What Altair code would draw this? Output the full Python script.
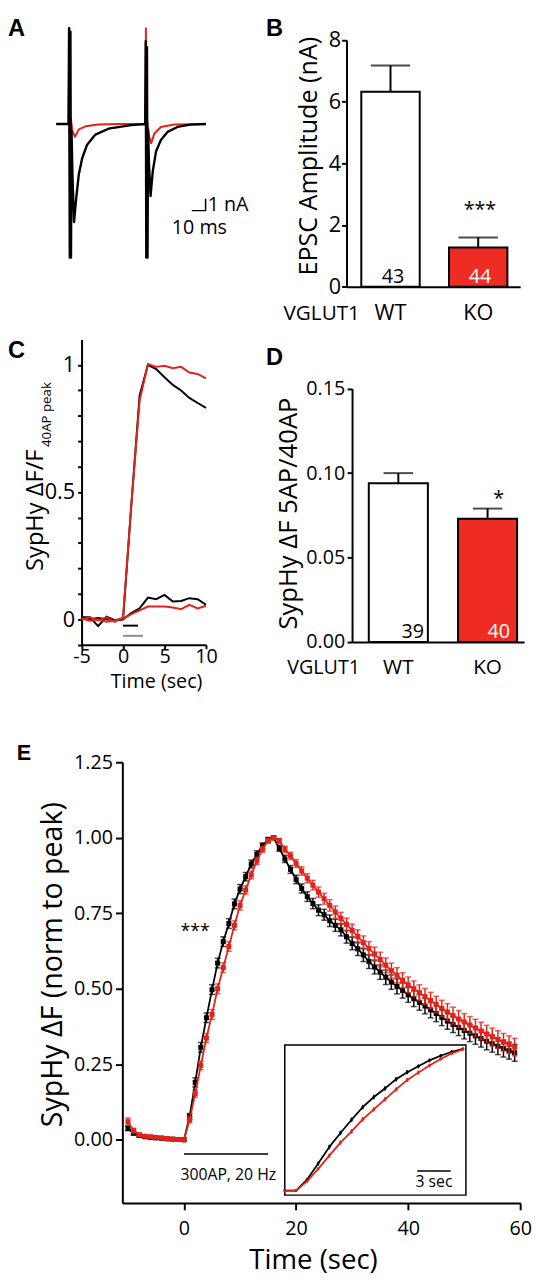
import altair as alt
import pandas as pd

FONT = "Open Sans"
BOLD = "Liberation Sans"
RED_LINE = "#E2231A"
RED_FILL = "#EE2C24"
GREY = "#8C8C8C"
W, H = 524, 1264

# ---------------- Panel A : EPSC traces (time ms, current nA) ----------------
a_black_t = [-9.3, -0.4, 0.0, 0.5, 1.0, 1.4, 1.8, 2.5, 3.6, 5.2, 7.1, 9.5, 13.1, 19.1, 28.6, 45.0,
             55.2, 55.6, 56.0, 56.5, 56.9, 57.3, 58.0, 59.1, 60.7, 63.1, 66.6, 71.4, 78.6, 87.9, 99.3]
a_black_i = [0.0, 0.0, 8.1, -11.3, 7.8, -11.3, -0.6, -4.5, -8.3, -6.25, -4.25, -2.9, -1.75, -0.9, -0.4, -0.1,
             0.0, 7.0, -11.3, 6.5, -11.3, -0.5, -3.5, -6.1, -4.0, -2.3, -1.35, -0.67, -0.25, -0.05, 0.0]
a_red_t = [-9.3, -0.3, 0.2, 0.6, 1.2, 2.5, 4.3, 7.1, 11.9, 21.4, 35.7,
           55.3, 55.7, 56.1, 56.6, 57.8, 59.5, 61.9, 66.6, 76.2, 99.3]
a_red_i = [0.0, 0.0, 8.1, -3.0, 0.5, -0.6, -1.08, -0.45, -0.2, -0.05, 0.0,
           0.0, 8.1, -3.0, 0.3, -0.9, -1.64, -0.8, -0.25, -0.05, 0.0]
a_bar_t = [89.0, 99.0, 99.0]
a_bar_i = [-7.33, -7.33, -6.33]
a_bar_k = [0, 1, 2]

# ---------------- Panel B : EPSC amplitude ----------------
genotypes = ["WT", "KO"]
b_mean = [6.32, 1.27]
b_sem = [0.85, 0.33]
b_n = ["43", "44"]
b_sig = ["", "***"]

# ---------------- Panel C : SypHy traces ----------------
c_t = [-5, -4, -3, -2, -1, 0, 1, 2, 3, 4, 5, 6, 7, 8, 9, 10]
c_black_40 = [0.005, 0.0, 0.005, 0.0, -0.005, 0.0, 0.45, 0.88, 1.0, 0.983, 0.951, 0.921, 0.899, 0.87, 0.85, 0.831]
c_red_40 = [0.0, 0.008, -0.005, 0.008, -0.01, 0.008, 0.45, 0.86, 1.003, 0.992, 0.996, 0.987, 0.992, 0.97, 0.964, 0.947]
c_black_5 = [0.008, 0.008, -0.027, 0.01, -0.003, 0.0, 0.024, 0.043, 0.085, 0.079, 0.096, 0.07, 0.072, 0.083, 0.079, 0.057]
c_red_5 = [0.003, -0.006, 0.0, -0.01, -0.005, 0.003, 0.02, 0.035, 0.05, 0.05, 0.05, 0.046, 0.04, 0.057, 0.043, 0.053]
c_stim_start = [0.0, 0.0]
c_stim_end = [1.8, 2.4]
c_stim_level = [-0.025, -0.065]

# ---------------- Panel D : 5AP/40AP ratio ----------------
d_mean = [0.094, 0.073]
d_sem = [0.006, 0.006]
d_n = ["39", "40"]
d_sig = ["", "*"]

# ---------------- Panel E : 300AP response ----------------
e_t = list(range(-10, 60))
e_black = [0.038, 0.022, 0.014, 0.010, 0.008, 0.006, 0.005, 0.003, 0.002, 0.001, 0.000,
           0.077, 0.19, 0.306, 0.404, 0.497, 0.585, 0.656, 0.716, 0.781, 0.83, 0.871, 0.913, 0.945, 0.973, 0.993, 1.0,
           0.965, 0.93, 0.895, 0.862, 0.832, 0.805, 0.782, 0.76, 0.745, 0.725, 0.71, 0.695, 0.672, 0.65, 0.632,
           0.612, 0.59, 0.572, 0.555, 0.538, 0.522, 0.508, 0.494, 0.48, 0.467, 0.455, 0.443, 0.43, 0.418, 0.405,
           0.393, 0.382, 0.372, 0.362, 0.353, 0.344, 0.335, 0.326, 0.318, 0.31, 0.302, 0.295, 0.288]
e_black_sem = [0.008, 0.006, 0.004, 0.004, 0.004, 0.004, 0.004, 0.004, 0.004, 0.004, 0.004,
               0.01, 0.015, 0.016, 0.016, 0.016, 0.016, 0.016, 0.016, 0.016, 0.015, 0.014, 0.013, 0.012, 0.01, 0.008, 0.006,
               0.01, 0.012, 0.013, 0.014, 0.015, 0.016, 0.017, 0.018, 0.018, 0.019, 0.02, 0.02, 0.021, 0.021, 0.022,
               0.022, 0.023, 0.023, 0.024, 0.024, 0.024, 0.025, 0.025, 0.025, 0.026, 0.026, 0.026, 0.026, 0.027, 0.027,
               0.027, 0.027, 0.027, 0.028, 0.028, 0.028, 0.028, 0.028, 0.028, 0.028, 0.028, 0.028, 0.028]
e_red = [0.06, 0.03, 0.017, 0.012, 0.010, 0.008, 0.006, 0.004, 0.002, 0.001, 0.000,
         0.066, 0.153, 0.246, 0.337, 0.415, 0.50, 0.57, 0.64, 0.71, 0.776, 0.827, 0.877, 0.923, 0.962, 0.99, 1.0,
         0.99, 0.962, 0.94, 0.915, 0.89, 0.866, 0.843, 0.82, 0.798, 0.776, 0.754, 0.733, 0.713, 0.693, 0.673,
         0.653, 0.633, 0.615, 0.597, 0.578, 0.56, 0.545, 0.528, 0.513, 0.5, 0.487, 0.474, 0.461, 0.448, 0.435,
         0.423, 0.411, 0.4, 0.39, 0.38, 0.37, 0.36, 0.35, 0.341, 0.332, 0.323, 0.315, 0.307]
e_red_sem = [0.012, 0.008, 0.005, 0.004, 0.004, 0.004, 0.004, 0.004, 0.004, 0.004, 0.004,
             0.01, 0.012, 0.014, 0.015, 0.016, 0.016, 0.016, 0.016, 0.015, 0.015, 0.014, 0.013, 0.012, 0.01, 0.008, 0.006,
             0.008, 0.01, 0.012, 0.013, 0.014, 0.015, 0.016, 0.017, 0.018, 0.019, 0.02, 0.02, 0.021, 0.021, 0.022,
             0.022, 0.023, 0.023, 0.024, 0.024, 0.025, 0.025, 0.025, 0.026, 0.026, 0.026, 0.027, 0.027, 0.027, 0.027,
             0.028, 0.028, 0.028, 0.028, 0.028, 0.029, 0.029, 0.029, 0.029, 0.029, 0.029, 0.029, 0.029]
e_stim = [0.0, 15.0, -0.047]
inset_window = [-1, 15]
inset_bar = [10.9, 13.9, 0.138]


# ---------------- scales (plot-area pixel ranges per panel) ----------------
def q(domain, rng):
    return alt.Scale(domain=domain, range=rng, nice=False, zero=False)


A_X = q([-10, 100], [48, 202])
A_Y = q([-11.5, 8.5], [242, 2])
B_X = alt.Scale(domain=genotypes, range=[343.7, 520], paddingInner=0.334, paddingOuter=0.157, align=0.536)
B_Y = q([0, 8], [269.3, 18.7])
C_X = q([-5, 10], [74.7, 201])
C_Y = q([-0.1, 1.1], [632.7, 322.7])
D_X = alt.Scale(domain=genotypes, range=[349.3, 524], paddingInner=0.338, paddingOuter=0.133, align=0.705)
D_Y = q([0, 0.15], [630, 372.7])
E_X = q([-11, 60], [116.1, 520.1])
E_Y = q([-0.209, 1.25], [1199.4, 752.0])
I_XD = [-1.0, 15.27]
I_YD = [-0.031, 1.021]
I_X = q(I_XD, [281, 464.9])
I_Y = q(I_YD, [1191.5, 1039])

layers = []


def txt(df, scale_x, scale_y, xf, yf, tf, **kw):
    return alt.Chart(df).mark_text(font=FONT, color="black", **kw).encode(
        x=alt.X(xf, scale=scale_x, axis=None), y=alt.Y(yf, scale=scale_y, axis=None), text=tf)


# ---------------- Panel A ----------------
dfa_r = pd.DataFrame({"t": a_red_t, "i": a_red_i})
dfa_b = pd.DataFrame({"t": a_black_t, "i": a_black_i})
layers.append(alt.Chart(dfa_r).mark_line(color=RED_LINE, strokeWidth=2, strokeJoin="round").encode(
    x=alt.X("t:Q", scale=A_X, axis=None), y=alt.Y("i:Q", scale=A_Y, axis=None)))
layers.append(alt.Chart(dfa_b).mark_line(color="black", strokeWidth=2.4, strokeJoin="round").encode(
    x=alt.X("t:Q", scale=A_X, axis=None), y=alt.Y("i:Q", scale=A_Y, axis=None)))
dfa_bar = pd.DataFrame({"t": a_bar_t, "i": a_bar_i, "k": a_bar_k})
layers.append(alt.Chart(dfa_bar).mark_line(color="black", strokeWidth=1.5).encode(
    x=alt.X("t:Q", scale=A_X, axis=None), y=alt.Y("i:Q", scale=A_Y, axis=None), order="k:Q"))
layers.append(txt(pd.DataFrame({"t": [a_bar_t[2] + 1.5], "i": [(a_bar_i[1] + a_bar_i[2]) / 2], "s": ["1 nA"]}),
                  A_X, A_Y, "t:Q", "i:Q", "s:N", fontSize=20, align="left", baseline="middle"))
layers.append(txt(pd.DataFrame({"t": [(a_bar_t[0] + a_bar_t[1]) / 2 + 0.5], "i": [a_bar_i[0] - 1.5], "s": ["10 ms"]}),
                  A_X, A_Y, "t:Q", "i:Q", "s:N", fontSize=20, align="center", baseline="middle"))


# ---------------- bar panels (B, D) ----------------
def bar_panel(means, sems, ns, sigs, SX, SY, yaxis, xaxis, cap, sig_dy):
    df = pd.DataFrame({"g": genotypes, "m": means, "sem": sems, "n": ns, "sig": sigs})
    df["top"] = df["m"] + df["sem"]
    df["zero"] = 0.0
    out = []
    out.append(alt.Chart(df).mark_bar(stroke="black", strokeWidth=2).encode(
        x=alt.X("g:N", scale=SX, axis=xaxis),
        y=alt.Y("m:Q", scale=SY, axis=yaxis), y2="zero:Q",
        fill=alt.Fill("g:N", scale=alt.Scale(domain=genotypes, range=["white", RED_FILL]), legend=None)))
    out.append(alt.Chart(df).mark_rule(color="black", strokeWidth=2).encode(
        x=alt.X("g:N", scale=SX, axis=None), y=alt.Y("m:Q", scale=SY, axis=None), y2="top:Q"))
    out.append(alt.Chart(df).mark_tick(color="black", thickness=2, size=cap, orient="horizontal").encode(
        x=alt.X("g:N", scale=SX, axis=None), y=alt.Y("top:Q", scale=SY, axis=None)))
    out.append(alt.Chart(df).mark_text(font=FONT, fontSize=20, baseline="alphabetic", dy=-4).encode(
        x=alt.X("g:N", scale=SX, axis=None), y=alt.Y("zero:Q", scale=SY, axis=None), text="n:N",
        color=alt.Color("g:N", scale=alt.Scale(domain=genotypes, range=["black", "white"]), legend=None)))
    out.append(alt.Chart(df).mark_text(font=FONT, fontSize=20, baseline="alphabetic", dy=sig_dy, color="black").encode(
        x=alt.X("g:N", scale=SX, axis=None), y=alt.Y("top:Q", scale=SY, axis=None), text="sig:N"))
    return out


B_yaxis = alt.Axis(orient="left", offset=-343.7, values=[0, 2, 4, 6, 8], tickSize=5, labelFontSize=22,
                   labelPadding=1, title="EPSC Amplitude (nA)", titleFontSize=25.5, titleX=-30.7, titleY=136.2,
                   titleAlign="center", titleAngle=270, titleBaseline="alphabetic")
B_xaxis = alt.Axis(orient="bottom", offset=269.3 - H, ticks=False, labelFontSize=22, labelPadding=33,
                   labelBaseline="alphabetic", labelAngle=0, title="VGLUT1", titleFontSize=21, titleX=318,
                   titleY=33, titleAlign="center", titleAngle=0, titleBaseline="alphabetic")
layers += bar_panel(b_mean, b_sem, b_n, b_sig, B_X, B_Y, B_yaxis, B_xaxis, 40, -22)

D_yaxis = alt.Axis(orient="left", offset=-349.3, values=[0, 0.05, 0.1, 0.15], format=".2f", tickSize=5,
                   labelFontSize=20, labelPadding=2.5, title="SypHy ΔF 5AP/40AP", titleFontSize=26,
                   titleX=301 - 357.3, titleY=499, titleAlign="center", titleAngle=270, titleBaseline="alphabetic")
D_xaxis = alt.Axis(orient="bottom", offset=630 - H, ticks=False, labelFontSize=21, labelPadding=32,
                   labelBaseline="alphabetic", labelAngle=0, title="VGLUT1", titleFontSize=20, titleX=320,
                   titleY=32, titleAlign="center", titleAngle=0, titleBaseline="alphabetic")
layers += bar_panel(d_mean, d_sem, d_n, d_sig, D_X, D_Y, D_yaxis, D_xaxis, 30, -4)

# ---------------- Panel C ----------------
C_yaxis = alt.Axis(orient="left", offset=-74.7,
                   values=[-0.1, 0, 0.1, 0.2, 0.3, 0.4, 0.5, 0.6, 0.7, 0.8, 0.9, 1.0],
                   labelExpr="datum.value == 0 ? '0' : datum.value == 0.5 ? '0.5' : datum.value == 1 ? '1' : ''",
                   tickSize=4, labelFontSize=22, labelPadding=3, title="SypHy ΔF/F", titleFontSize=24,
                   titleX=-39.2, titleY=434, titleAlign="right", titleAngle=270, titleBaseline="alphabetic")
C_xaxis = alt.Axis(orient="bottom", offset=632.7 - H, values=[-5, 0, 5, 10], labelExpr="'' + datum.value",
                   tickSize=4, labelFontSize=20, labelBaseline="alphabetic", labelPadding=14,
                   title="Time (sec)", titleFontSize=20, titleX=150.3, titleY=43, titleAlign="center",
                   titleAngle=0, titleBaseline="alphabetic")
dfc = pd.DataFrame({"t": c_t, "b40": c_black_40, "r40": c_red_40, "b5": c_black_5, "r5": c_red_5})
first = True
for col, colr in [("b5", "black"), ("b40", "black"), ("r5", RED_LINE), ("r40", RED_LINE)]:
    layers.append(alt.Chart(dfc).mark_line(color=colr, strokeWidth=2).encode(
        x=alt.X("t:Q", scale=C_X, axis=C_xaxis if first else None),
        y=alt.Y(col + ":Q", scale=C_Y, axis=C_yaxis if first else None)))
    first = False
for k, colr in enumerate(["black", GREY]):
    dfs = pd.DataFrame({"a": [c_stim_start[k]], "b": [c_stim_end[k]], "v": [c_stim_level[k]]})
    layers.append(alt.Chart(dfs).mark_rule(color=colr, strokeWidth=2).encode(
        x=alt.X("a:Q", scale=C_X, axis=None), x2="b:Q", y=alt.Y("v:Q", scale=C_Y, axis=None)))
layers.append(alt.Chart(pd.DataFrame({"s": ["40AP peak"]})).mark_text(
    font=FONT, fontSize=13.5, angle=270, align="left", baseline="alphabetic", color="black").encode(
    x=alt.value(44), y=alt.value(432), text="s:N"))

# ---------------- Panel E ----------------
E_yaxis = alt.Axis(orient="left", offset=-116.1, values=[0, 0.25, 0.5, 0.75, 1.0, 1.25], format=".2f",
                   tickSize=7, labelFontSize=20, labelPadding=3, title="SypHy ΔF (norm to peak)",
                   titleFontSize=29, titleX=-62.1, titleY=957, titleAlign="center", titleAngle=270,
                   titleBaseline="alphabetic")
E_xaxis = alt.Axis(orient="bottom", offset=1199.4 - H, values=[0, 20, 40, 60], format="d", tickSize=7,
                   labelFontSize=20, labelBaseline="alphabetic", labelPadding=25, title="Time (sec)",
                   titleFontSize=28, titleX=309.7, titleY=67, titleAlign="center", titleAngle=0,
                   titleBaseline="alphabetic")

dfst = pd.DataFrame({"a": [e_stim[0]], "b": [e_stim[1]], "v": [e_stim[2]]})
layers.append(alt.Chart(dfst).mark_rule(color="black", strokeWidth=1.5).encode(
    x=alt.X("a:Q", scale=E_X, axis=E_xaxis), x2="b:Q", y=alt.Y("v:Q", scale=E_Y, axis=E_yaxis)))


def series(vals, sems, colr, SX, SY, tmin=None, tmax=None, cap=6, msize=26, inset=False):
    df = pd.DataFrame({"t": e_t, "v": vals, "sem": sems})
    if tmin is not None:
        df = df[(df["t"] >= tmin) & (df["t"] <= tmax)]
    df = df.assign(lo=df["v"] - df["sem"], hi=df["v"] + df["sem"])
    caps = pd.concat([df[["t"]].assign(c=df["lo"]), df[["t"]].assign(c=df["hi"])], ignore_index=True)
    out = []
    out.append(alt.Chart(df).mark_line(color=colr, strokeWidth=1.8).encode(
        x=alt.X("t:Q", scale=SX, axis=None), y=alt.Y("v:Q", scale=SY, axis=None)))
    out.append(alt.Chart(df).mark_rule(color=colr, strokeWidth=1.5).encode(
        x=alt.X("t:Q", scale=SX, axis=None), y=alt.Y("lo:Q", scale=SY, axis=None), y2="hi:Q"))
    if not inset:
        out.append(alt.Chart(caps).mark_tick(color=colr, thickness=1.5, size=cap, orient="horizontal").encode(
            x=alt.X("t:Q", scale=SX, axis=None), y=alt.Y("c:Q", scale=SY, axis=None)))
        out.append(alt.Chart(df).mark_square(color=colr, size=msize, opacity=1).encode(
            x=alt.X("t:Q", scale=SX, axis=None), y=alt.Y("v:Q", scale=SY, axis=None)))
    else:
        out.append(alt.Chart(df).mark_point(color=colr, size=8, filled=True, opacity=1).encode(
            x=alt.X("t:Q", scale=SX, axis=None), y=alt.Y("v:Q", scale=SY, axis=None)))
    return out


layers += series(e_black, e_black_sem, "black", E_X, E_Y)
layers += series(e_red, e_red_sem, RED_LINE, E_X, E_Y)
layers.append(txt(pd.DataFrame({"t": [2.0], "v": [0.687], "s": ["***"]}), E_X, E_Y, "t:Q", "v:Q", "s:N",
                  fontSize=18, align="center", baseline="middle"))
layers.append(txt(pd.DataFrame({"t": [(e_stim[0] + e_stim[1]) / 2 + 0.4], "v": [-0.116], "s": ["300AP, 20 Hz"]}),
                  E_X, E_Y, "t:Q", "v:Q", "s:N", fontSize=16, align="center", baseline="middle"))

# inset frame + zoomed rising phase
dfbox = pd.DataFrame({"x0": [I_XD[0]], "x1": [I_XD[1]], "y0": [I_YD[0]], "y1": [I_YD[1]]})
layers.append(alt.Chart(dfbox).mark_rect(fill="white", stroke="black", strokeWidth=1.5).encode(
    x=alt.X("x0:Q", scale=I_X, axis=None), x2="x1:Q", y=alt.Y("y0:Q", scale=I_Y, axis=None), y2="y1:Q"))
layers += series(e_black, e_black_sem, "black", I_X, I_Y, inset_window[0], inset_window[1], inset=True)
layers += series(e_red, e_red_sem, RED_LINE, I_X, I_Y, inset_window[0], inset_window[1], inset=True)
dfib = pd.DataFrame({"a": [inset_bar[0]], "b": [inset_bar[1]], "v": [inset_bar[2]]})
layers.append(alt.Chart(dfib).mark_rule(color="black", strokeWidth=1.5).encode(
    x=alt.X("a:Q", scale=I_X, axis=None), x2="b:Q", y=alt.Y("v:Q", scale=I_Y, axis=None)))
layers.append(txt(pd.DataFrame({"t": [(inset_bar[0] + inset_bar[1]) / 2], "v": [0.057], "s": ["3 sec"]}),
                  I_X, I_Y, "t:Q", "v:Q", "s:N", fontSize=16, align="center", baseline="middle"))

# ---------------- panel letters ----------------
for letter, px, py, fs in [("A", 0, 15, 24), ("B", 262, 15, 24), ("C", 0, 342, 24), ("D", 262, 349, 24),
                           ("E", 9, 750, 22)]:
    layers.append(alt.Chart(pd.DataFrame({"s": [letter]})).mark_text(
        font=BOLD, fontWeight="bold", fontSize=fs, align="left", baseline="alphabetic", color="black").encode(
        x=alt.value(px), y=alt.value(py), text="s:N"))

chart = alt.layer(*layers).resolve_scale(
    x="independent", y="independent", color="independent", fill="independent"
).properties(width=W, height=H, padding=0, background="white").configure_view(stroke=None).configure_axis(
    grid=False, domainColor="black", tickColor="black", labelColor="black", titleColor="black",
    labelFont=FONT, titleFont=FONT, titleFontWeight="normal", domainWidth=2, tickWidth=2,
    labelFlush=False, labelOverlap=False
)

chart.save("out.html", embed_options={"renderer": "svg", "actions": False})
